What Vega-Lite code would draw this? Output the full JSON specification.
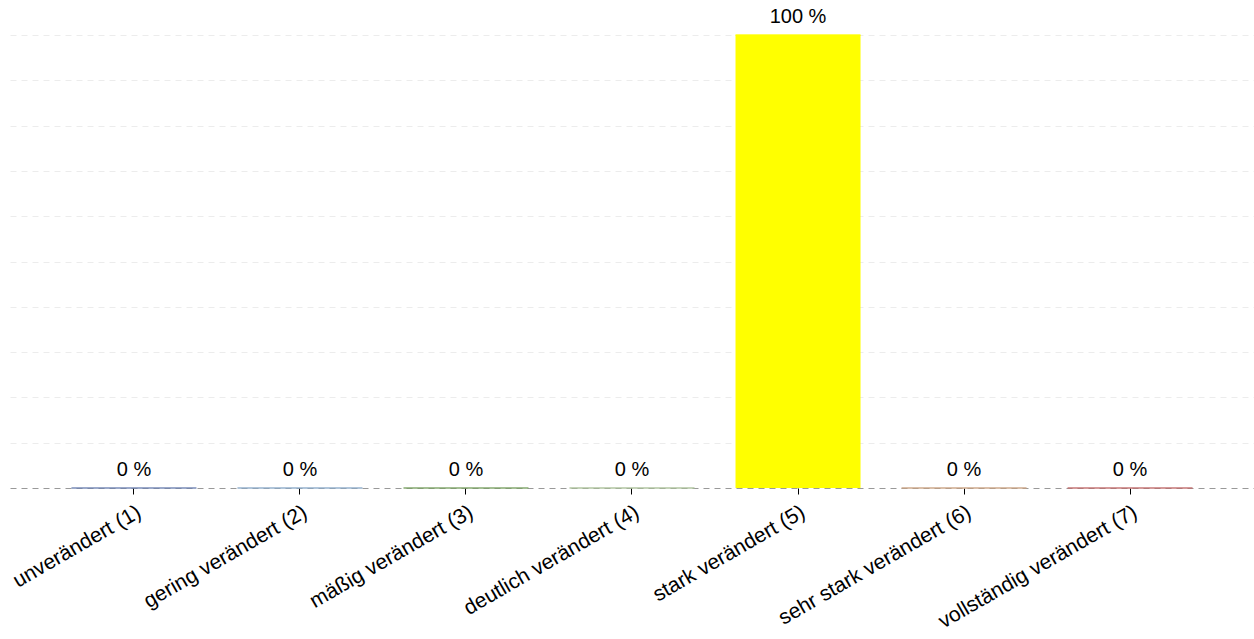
{
  "$schema": "https://vega.github.io/schema/vega-lite/v6.json",
  "width": 1244,
  "height": 453,
  "autosize": {"type": "none"},
  "padding": {"left": 10, "top": 35, "right": 0, "bottom": 151},
  "background": "white",
  "config": {"view": {"stroke": null}, "font": "Liberation Sans"},
  "data": {
    "values": [
      {"cat": "unverändert (1)", "value": 0},
      {"cat": "gering verändert (2)", "value": 0},
      {"cat": "mäßig verändert (3)", "value": 0},
      {"cat": "deutlich verändert (4)", "value": 0},
      {"cat": "stark verändert (5)", "value": 100},
      {"cat": "sehr stark verändert (6)", "value": 0},
      {"cat": "vollständig verändert (7)", "value": 0}
    ]
  },
  "transform": [{"calculate": "datum.value + ' %'", "as": "label"}],
  "encoding": {
    "x": {
      "field": "cat",
      "type": "nominal",
      "sort": null,
      "scale": {"paddingInner": 0.247, "paddingOuter": 0.37},
      "axis": {
        "title": null,
        "domain": false,
        "ticks": true,
        "tickColor": "#000",
        "tickSize": 6,
        "labelAngle": -30,
        "labelAlign": "right",
        "labelBaseline": "top",
        "labelFontSize": 21,
        "labelColor": "#000",
        "labelPadding": 7,
        "labelLimit": 0,
        "labelOverlap": false,
        "grid": false
      }
    },
    "y": {
      "field": "value",
      "type": "quantitative",
      "scale": {"domain": [0, 100]},
      "axis": {
        "title": null,
        "labels": false,
        "ticks": false,
        "domain": false,
        "grid": true,
        "tickCount": 10,
        "gridDash": [6, 5],
        "gridColor": {"condition": {"test": "datum.value === 0", "value": "#999"}, "value": "#ececec"},
        "gridWidth": 1
      }
    },
    "color": {
      "field": "cat",
      "type": "nominal",
      "sort": null,
      "legend": null,
      "scale": {"range": ["#6a80b0", "#8aa8c8", "#78a060", "#a8c098", "#ffff00", "#c8a080", "#c06868"]}
    }
  },
  "layer": [
    {"mark": {"type": "bar", "opacity": 1}},
    {"mark": {"type": "tick", "orient": "horizontal", "size": 125, "thickness": 1.5, "opacity": 0.9}},
    {
      "mark": {"type": "text", "baseline": "bottom", "dy": -8, "fontSize": 20, "color": "#000"},
      "encoding": {"text": {"field": "label"}, "color": {"value": "#000"}}
    }
  ]
}
